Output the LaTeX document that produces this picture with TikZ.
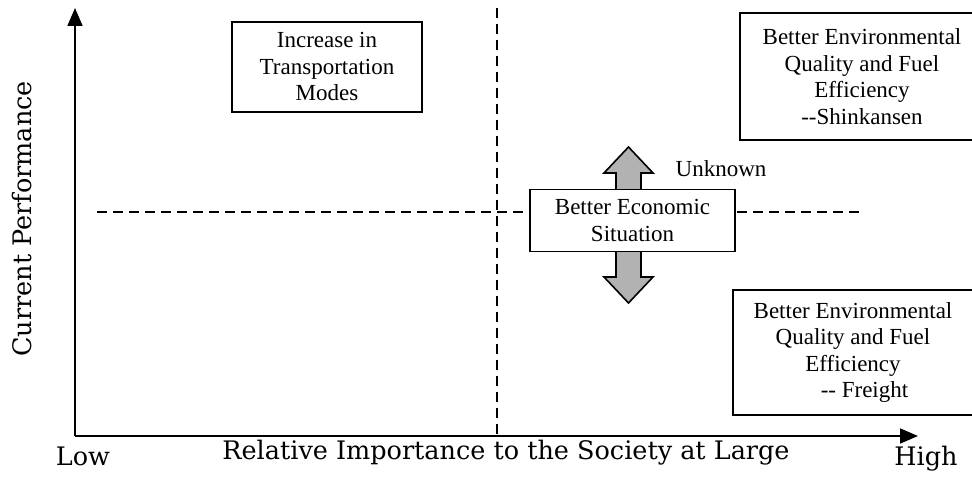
\documentclass[tikz,border=0pt]{standalone}
\usepackage{fontspec}
\usepackage{tikz}
\usetikzlibrary{arrows.meta}
\newfontfamily\boxfont{Liberation Serif}
\newfontfamily\axisfont{DejaVu Serif}
\tikzset{
  qbox/.style = {draw=black, fill=white, line width=1.6pt, align=center, inner sep=0pt,
                 font=\boxfont\fontsize{23}{26.5}\selectfont},
  note/.style = {font=\boxfont\fontsize{23}{26.5}\selectfont},
  axislabel/.style = {font=\axisfont\fontsize{25.5}{30}\selectfont},
  axis/.style = {line width=1.8pt, -{Triangle[length=18pt,width=15pt]}},
  divider/.style = {line width=1.2pt, dash pattern=on 10pt off 6pt},
  updown/.style = {draw=black, line width=1.6pt, fill=black!30},
}
\begin{document}
\begin{tikzpicture}[x=1pt, y=-1pt]
\useasboundingbox (0,0) rectangle (972,478);
\clip (0,0) rectangle (972,478);
% axes
\coordinate (O) at (75,436);
\coordinate (ytip) at (75,8);
\coordinate (xtip) at (918,436);
\draw[axis] (O) -- (ytip);
\draw[axis] (O) -- (xtip);
% quadrant dividers
\coordinate (midtop) at (497,8);
\coordinate (midbot) at (497,436);
\coordinate (midleft) at (97,212);
\coordinate (midright) at (863,212);
\draw[divider] (midtop) -- (midbot);
\draw[divider] (midleft) -- (midright);
% up/down arrow behind the middle box
\filldraw[updown] (628.5,147) -- (653,173) -- (641,173) -- (641,277) -- (653,277)
  -- (628.5,303) -- (604,277) -- (616,277) -- (616,173) -- (604,173) -- cycle;
% boxes
\node [qbox, minimum width=190pt, minimum height=90pt] (modes) at (327,67)
  {Increase in\\Transportation\\Modes};
\node [qbox, minimum width=244pt, minimum height=127pt] (shinkansen) at (862,76.5)
  {Better Environmental\\Quality and Fuel\\Efficiency\\-{}-Shinkansen};
\node [qbox, minimum width=240pt, minimum height=125pt] (freight) at (853,352.5)
  {Better Environmental\\Quality and Fuel\\Efficiency\\\hspace*{1em}-{}- Freight};
\node [qbox, minimum width=205pt, minimum height=62pt] (econ) at (632.5,220.5)
  {Better Economic\\Situation};
\node [note, anchor=base] (unknown) at (721,177) {Unknown};
% axis labels
\node [axislabel, anchor=base] (low) at (83,465) {Low};
\node [axislabel, anchor=base] (high) at (926,465) {High};
\node [axislabel, anchor=base] (relimp) at (506,459) {Relative Importance to the Society at Large};
\node [axislabel, rotate=90] (curperf) at (22,219) {Current Performance};
\end{tikzpicture}
\end{document}
